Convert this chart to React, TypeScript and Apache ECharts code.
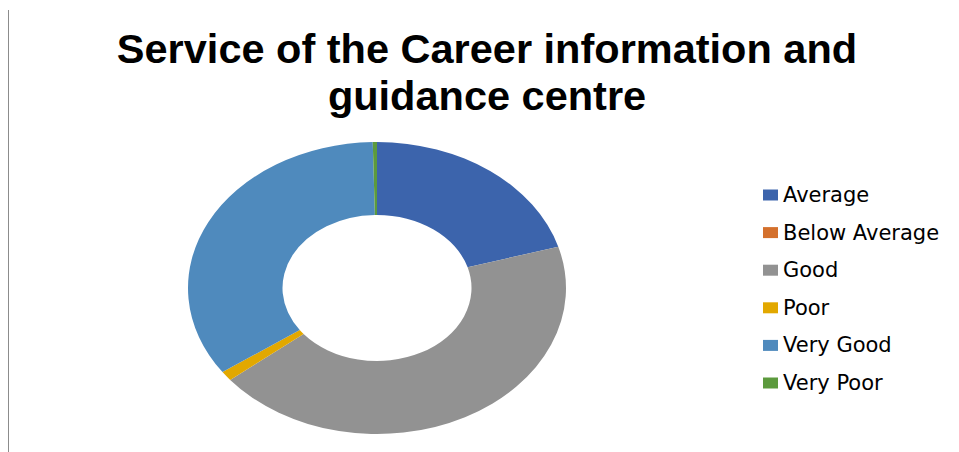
import React, { useEffect, useRef } from "react";
import * as echarts from "echarts";

const categories = ["Average", "Below Average", "Good", "Poor", "Very Good", "Very Poor"];
const values = [57, 0, 122, 3, 96, 1];
const colors = ["#3C64AC", "#D4702C", "#929292", "#E2A800", "#4F8ABD", "#5C9A3D"];
const titleLines = ["Service of the Career information and", "guidance centre"];

export default function App() {
  const mainRef = useRef<HTMLDivElement>(null);
  const pieRef = useRef<HTMLDivElement>(null);

  useEffect(() => {
    const main = echarts.init(mainRef.current!, null, { renderer: "svg" });
    const pie = echarts.init(pieRef.current!, null, { renderer: "svg" });
    const data = categories.map((name, i) => ({
      name,
      value: values[i],
      itemStyle: { color: colors[i] },
    }));

    main.setOption({
      animation: false,
      title: {
        text: titleLines.join("\n"),
        left: 487,
        textAlign: "center",
        top: 25,
        padding: 0,
        textStyle: {
          fontFamily: "Liberation Sans",
          fontWeight: "bold",
          fontSize: 41.5,
          lineHeight: 47,
          color: "#000",
        },
      },
      legend: {
        orient: "vertical",
        left: 758,
        top: 179.5,
        itemWidth: 15,
        itemHeight: 11,
        itemGap: 16.6,
        icon: "rect",
        selectedMode: false,
        data: categories,
        textStyle: { fontFamily: "DejaVu Sans", fontSize: 21, lineHeight: 21, color: "#000" },
      },
      graphic: [
        {
          type: "line",
          shape: { x1: 8.5, y1: 10, x2: 8.5, y2: 452 },
          style: { stroke: "#8c8c8c", lineWidth: 1 },
        },
      ],
      series: [
        {
          type: "pie",
          radius: [0, 0],
          center: [-200, -200],
          data,
          silent: true,
          label: { show: false },
          labelLine: { show: false },
        },
      ],
    });

    pie.setOption({
      animation: false,
      series: [
        {
          type: "pie",
          radius: [73, 146],
          center: ["50%", "50%"],
          startAngle: 90,
          clockwise: true,
          data,
          silent: true,
          label: { show: false },
          labelLine: { show: false },
        },
      ],
    });

    return () => {
      main.dispose();
      pie.dispose();
    };
  }, []);

  return (
    <div style={{ position: "absolute", left: 0, top: 0, width: 959, height: 452, background: "#fff" }}>
      <div ref={mainRef} style={{ position: "absolute", left: 0, top: 0, width: 959, height: 452 }} />
      <div
        ref={pieRef}
        style={{
          position: "absolute",
          left: 227,
          top: 138,
          width: 300,
          height: 300,
          transform: `scaleX(${189 / 146})`,
          transformOrigin: "50% 50%",
        }}
      />
    </div>
  );
}
